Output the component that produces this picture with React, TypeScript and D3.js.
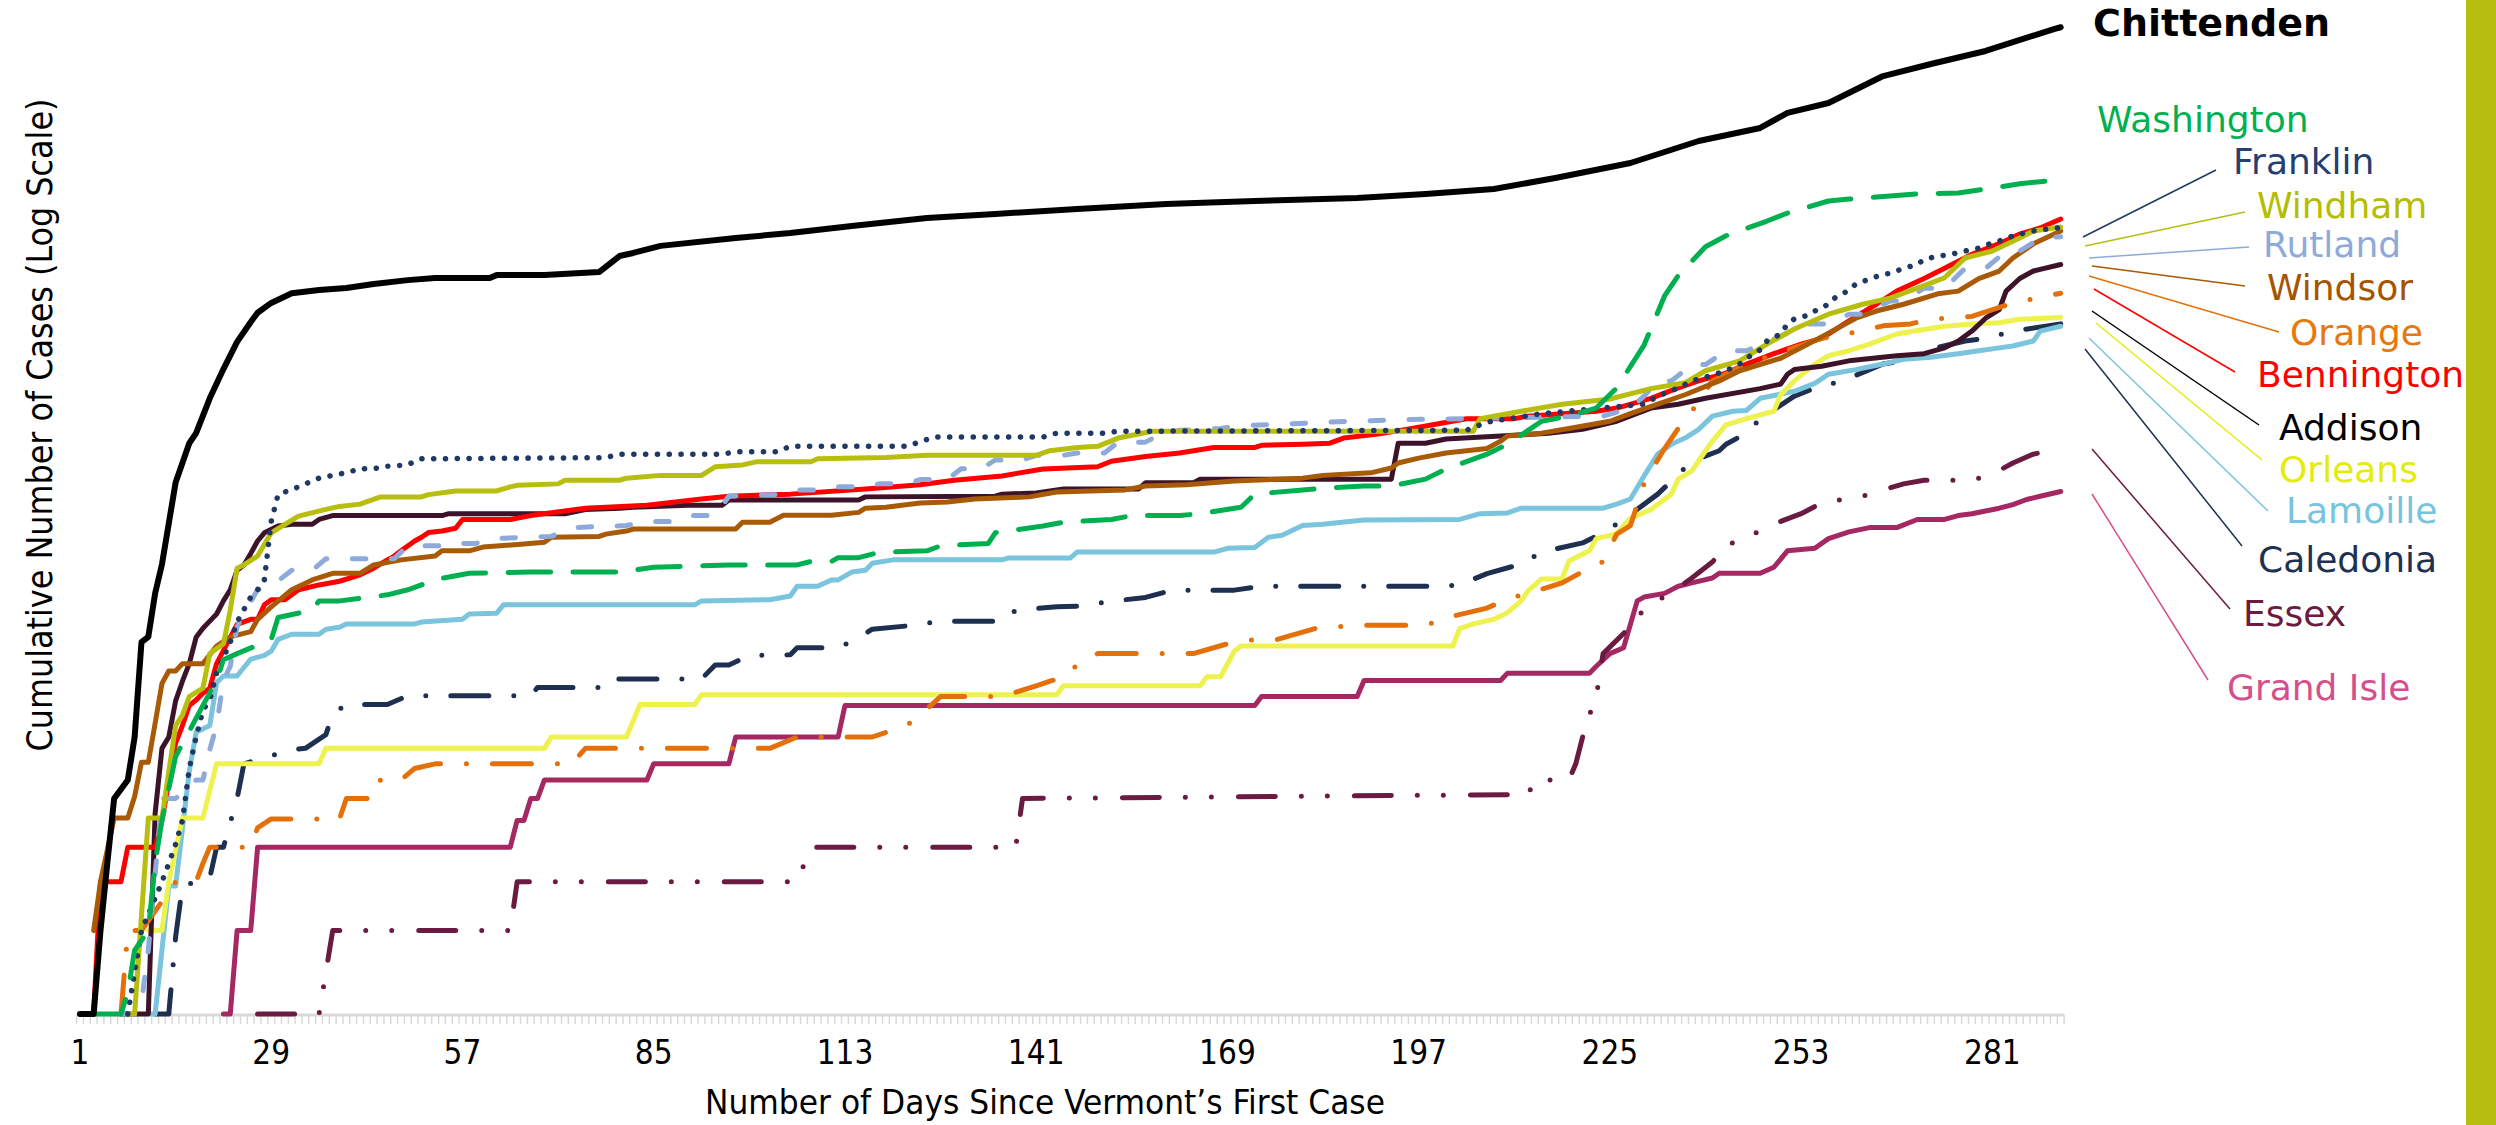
import React from "react";
import * as d3 from "d3";

type P = [number, number];

const dayTicks = [1, 29, 57, 85, 113, 141, 169, 197, 225, 253, 281];
const firstDay = 1;
const lastDay = 291;

const chittenden: P[] = [[1,1],[3,1],[4,2],[5,3.5],[6,6],[8,7],[9,10],[10,22],[11,23],[12,33],[13,42],[15,83],[17,115],[18,125],[20,167],[22,213],[24,267],[26,315],[27,340],[29,369],[32,400],[36,411],[40,418],[44,432],[49,446],[53,454],[61,454],[62,465],[69,465],[77,477],[80,545],[82,559],[86,593],[97,633],[105,660],[114,700],[125,748],[135,773],[147,806],[160,840],[173,861],[188,883],[198,913],[208,951],[217,1042],[228,1181],[238,1418],[247,1580],[251,1791],[257,1945],[265,2433],[272,2689],[280,2997],[290,3596],[291,3650]];

const washington: P[] = [[3,1],[7,1],[8,1.2],[9,1.7],[11,2],[12,3.5],[13,5],[14,6.5],[15,8.5],[17,10.5],[19,13],[21,16],[22,19],[24,20],[29,22.5],[30,27],[35,28.7],[36,31],[39,31],[46,32.6],[49,34],[51,35.4],[53,37],[58,39],[67,39.4],[80,39.4],[85,41],[96,41.8],[106,41.8],[108,43],[111,43],[112,44.4],[115,44.4],[118,46.4],[125,47],[127,49],[134,50],[135,54.6],[142,57.8],[145,59.6],[152,61],[155,63],[162,63],[165,64],[171,67.5],[173,75.3],[180,78],[183,79],[189,80.6],[193,80.6],[198,85.3],[201,92.8],[207,105],[210,114],[215,138],[219,144],[223,154],[226,182],[230,260],[233,391],[235,463],[239,589],[242,645],[248,729],[251,779],[257,861],[260,875],[266,897],[270,913],[276,921],[280,951],[285,993],[289,1017],[291,1044]];

const franklin: P[] = [[8,1],[10,2],[13,3],[14,3.5],[15,4.1],[16,5],[17,7.7],[18,10],[19,12.5],[20,13.6],[21,17],[23,22],[24,26],[26,32],[27,34],[28,37],[29,60],[30,75],[33,80],[34,82],[36,86],[38,88],[40,90],[42,93],[44,93],[46,95],[49,96],[50,99],[51,101],[78,102],[80,105],[95,105],[97,107],[103,107],[105,112],[122,112],[126,121],[142,121],[144,125],[151,125],[153,127],[204,128],[207,137],[215,147],[230,159],[232,170],[235,182],[237,193],[239,199],[242,210],[244,222],[245,233],[247,250],[248,269],[250,285],[251,310],[252,323],[254,333],[255,345],[257,365],[258,386],[260,410],[261,432],[263,450],[265,468],[266,472],[268,492],[270,508],[271,530],[273,544],[275,553],[277,568],[279,582],[280,597],[282,617],[283,633],[285,654],[287,671],[288,677],[291,690]];

const windham: P[] = [[8,1],[9,1],[11,5.1],[13,5.1],[15,11],[16,12],[17,14],[19,15],[20,20],[22,21.7],[23,28.7],[24,40.7],[25,41.8],[27,45],[29,54.6],[31,58.6],[33,62.7],[37,66.3],[39,68],[42,69.3],[45,73.6],[51,73.6],[52,75],[56,77.3],[62,77.3],[64,80],[65,81],[71,82],[72,84.5],[80,84.5],[81,86],[86,88],[92,88],[94,94.5],[98,96],[100,98.5],[108,98.5],[109,101],[119,102],[125,104],[141,104],[143,108],[147,111],[150,112],[153,120],[158,127],[205,127],[206,141],[212,150],[218,159],[225,166],[231,181],[236,190],[239,210],[244,228],[248,262],[252,297],[257,336],[262,365],[266,384],[271,426],[274,455],[277,536],[281,568],[285,633],[287,671],[291,694]];

const rutland: P[] = [[7,1],[9,1],[10,1.1],[11,1.7],[13,6],[15,6],[18,7],[19,7],[20,9],[21,11],[22,16],[23,18],[24,25],[25,28],[27,34],[29,35],[32,40],[35,40],[37,44],[47,44],[49,49],[54,49],[55,50],[59,50],[61,52],[70,53],[73,57],[81,58],[84,60],[88,60],[90,63],[94,63],[96,74],[103,75],[106,78],[110,78],[112,80],[115,80],[118,82],[122,82],[124,85],[128,85],[130,93],[133,93],[135,100],[139,100],[141,104],[145,104],[147,106],[151,106],[153,116],[157,116],[159,123],[162,128],[168,130],[171,133],[181,136],[187,138],[196,140],[204,141],[224,144],[228,154],[230,170],[232,193],[234,193],[237,221],[239,221],[242,248],[245,248],[250,280],[254,310],[257,310],[260,336],[262,336],[266,375],[268,375],[271,417],[274,417],[277,492],[280,492],[283,568],[285,568],[288,633],[291,640]];

const windsor: P[] = [[3,2],[4,3],[6,5.1],[8,5.1],[9,6.1],[10,8.1],[11,8.1],[12,11.2],[13,15.6],[14,17.3],[15,17.3],[16,18.4],[19,18.4],[21,21.3],[23,23],[26,24],[27,26.6],[29,29.5],[32,34],[35,36.9],[38,39],[42,39],[44,41.8],[48,43.6],[53,45],[54,47],[58,47],[60,48.5],[66,49.7],[69,50.5],[70,52.6],[77,53],[78,54],[81,55.4],[82,56.3],[97,56.3],[98,59.6],[102,59.6],[104,63.2],[111,63.2],[115,64.7],[116,67],[119,67.5],[124,69.9],[128,70.5],[132,72.3],[140,73.6],[144,76.6],[154,78],[157,80.6],[163,81.4],[170,84],[180,86],[183,88],[190,89.9],[193,93.6],[194,97.5],[197,101.6],[201,106],[207,110],[209,117],[210,122],[215,125],[219,130],[225,138],[228,147],[232,159],[236,172],[241,193],[244,210],[250,233],[254,262],[257,287],[261,325],[264,345],[268,365],[273,398],[276,407],[279,452],[282,481],[284,536],[287,603],[291,671]];

const orange: P[] = [[7,1],[8,2],[10,2],[15,3],[18,3],[19,3.5],[20,4],[26,4],[27,4.7],[29,5.06],[39,5.06],[40,6],[44,6],[45,7],[48,7],[50,7.7],[53,8],[73,8],[75,9.1],[102,9.1],[106,10],[117,10],[122,11],[124,12],[127,14],[136,14],[141,15.3],[145,16.5],[147,18.2],[150,20],[164,20],[169,21.7],[172,22.4],[176,22.4],[182,24.7],[188,25.3],[198,25.3],[202,27.3],[207,29.2],[210,31.5],[213,33],[218,36],[221,39.5],[224,43],[226,54],[228,58],[230,82],[231,91],[233,110],[235,130],[237,150],[240,193],[245,222],[256,275],[259,283],[265,305],[269,310],[272,322],[278,330],[284,369],[291,400]];

const bennington: P[] = [[1,1],[3,1],[4,3],[7,3],[8,4],[12,4],[13,5],[15,9.5],[16,11],[17,13],[18,13.6],[19,14.4],[20,15],[21,18.4],[24,25.5],[26,26.6],[27,26.6],[28,30],[29,31.3],[31,31.3],[33,34],[36,35.4],[39,36.5],[42,38.5],[44,40.7],[46,43.6],[47,45],[48,47],[50,51],[51,52.6],[52,54.7],[54,55.4],[56,56.7],[57,61],[64,61],[67,63],[75,67],[84,68.6],[92,72.3],[96,74],[105,75.3],[116,78.6],[124,81.4],[129,84.5],[136,87.6],[142,92.8],[150,94.5],[152,99],[157,103],[162,106],[167,111],[173,111],[174,113],[180,114],[184,115],[186,120],[191,124],[196,130],[204,141],[211,141],[213,144],[223,150],[226,154],[231,167],[235,182],[238,193],[242,206],[245,222],[249,242],[253,262],[256,275],[260,318],[264,365],[267,407],[271,452],[274,492],[278,553],[282,604],[285,654],[288,688],[291,741]];

const addison: P[] = [[7,1],[11,1],[12,5.3],[13,9.1],[14,10],[15,13.5],[16,15.9],[17,18.4],[18,22.9],[19,24.7],[20,26.2],[21,27.8],[22,31],[23,34],[24,40],[25,41.8],[26,46],[27,51],[28,54.6],[30,57.8],[32,58.6],[35,58.6],[36,61],[38,63],[54,63],[55,64],[72,64],[75,66.3],[80,67],[82,67.5],[90,68.6],[95,68.6],[96,71.7],[115,71.7],[116,73.6],[135,74],[136,75.3],[141,76],[145,78.6],[156,78.6],[157,82.7],[164,82.7],[165,85.3],[193,85.3],[194,115],[198,115],[201,119],[209,122],[216,125],[221,129],[226,138],[231,154],[235,159],[239,167],[247,181],[250,188],[251,204],[252,212],[256,218],[260,228],[267,238],[271,242],[274,254],[276,269],[278,292],[280,325],[282,349],[283,407],[285,452],[287,481],[288,488],[291,508]];

const orleans: P[] = [[11,2],[13,2],[14,3],[16,5.1],[19,5.1],[20,6.4],[21,8],[36,8],[37,9.1],[69,9.1],[70,10],[81,10],[83,13.1],[91,13.1],[92,14.2],[144,14.2],[145,15.3],[165,15.3],[166,16.5],[168,16.5],[170,20.4],[171,21.3],[202,21.3],[203,24.6],[205,25.6],[208,26.6],[210,28.1],[212,31],[213,33.7],[215,37.2],[218,37.2],[219,43.2],[222,47],[223,52],[226,54.2],[228,61.5],[231,66.3],[234,75.3],[235,85.3],[237,91.3],[239,108],[240,117],[242,134],[245,141],[249,150],[250,172],[252,193],[255,222],[257,238],[260,248],[263,262],[267,285],[271,296],[274,304],[278,310],[282,313],[285,322],[291,327]];

const lamoille: P[] = [[11,1],[12,1],[14,2.9],[15,2.9],[17,7.5],[18,10.4],[20,11],[21,15.7],[22,16.6],[24,16.6],[26,19.1],[28,19.7],[29,20.4],[30,22.5],[32,23.5],[36,23.5],[37,24.5],[39,24.9],[40,25.6],[50,25.6],[51,26],[57,26.6],[58,27.8],[62,28],[63,30],[91,30],[92,31],[102,31.3],[105,32.3],[106,35],[109,35],[111,36.9],[112,36.9],[114,39.4],[116,40],[117,42.4],[120,43.6],[136,43.6],[137,44.3],[146,44.3],[147,46.5],[167,46.5],[169,48],[173,48.3],[175,52.6],[177,53.5],[180,58],[183,58.6],[184,59],[189,60.7],[203,61],[206,64],[210,64.4],[212,67],[224,67],[226,69.3],[228,72.3],[230,87.6],[232,105],[234,114],[236,120],[238,129],[240,144],[243,150],[245,151],[247,167],[252,177],[255,189],[257,204],[261,212],[265,222],[268,231],[272,235],[276,242],[279,248],[282,254],[284,258],[287,269],[288,292],[291,304]];

const caledonia: P[] = [[12,1],[14,1],[15,1.9],[16,2.9],[20,3.1],[21,4],[22,4],[23,4.9],[24,6],[25,8],[32,9],[34,9.1],[37,10.2],[38,12.1],[40,13.1],[46,13.1],[49,14.1],[67,14.1],[68,15.1],[77,15.1],[78,16.2],[92,16.2],[94,18.2],[96,18.2],[99,19.7],[105,19.8],[106,21],[112,21],[115,22.8],[117,24.5],[123,25.3],[127,26.2],[136,26.2],[138,28.7],[144,29.5],[148,29.7],[151,30.7],[157,31.9],[161,33.9],[170,33.9],[174,35],[200,35],[203,35.4],[207,38.9],[212,42.1],[215,46.5],[221,50.2],[224,54.6],[227,61],[232,75.3],[237,99],[241,108],[242,114],[245,125],[247,141],[252,170],[255,182],[259,193],[265,222],[268,228],[271,248],[277,269],[280,275],[284,292],[291,310]];

const essex: P[] = [[27,1],[36,1],[38,2],[64,2],[65,3],[106,3],[108,4],[138,4],[139,6],[213,6.2],[214,7],[219,7],[220,8],[221,10],[222,12],[223,14],[224,20],[228,25],[230,29],[235,34.5],[237,37.5],[240,42.8],[242,49],[247,55.4],[250,60],[253,64],[256,70],[262,74],[265,78],[268,82],[271,84.5],[278,84.5],[281,89],[284,97.5],[287,105],[291,110]];

const grandIsle: P[] = [[22,1],[23,1],[24,2],[26,2],[27,4],[64,4],[65,5],[66,5],[67,6],[68,6],[69,7],[84,7],[85,8],[96,8],[97,10],[112,10],[113,13],[173,13],[174,14],[188,14],[189,16],[209,16],[210,17],[222,17],[223,18],[225,20],[227,21],[229,31],[230,32],[233,33],[235,35],[237,36],[240,37.5],[241,39],[247,39],[249,41],[251,47],[255,48],[257,52],[258,53],[260,55],[263,57],[267,57],[270,61],[274,61],[276,63],[278,64],[282,67],[284,69],[286,72],[288,74],[291,77]];

type Style = { color: string; width: number; dash?: string };

// drawn bottom to top
const series: { name: string; data: P[]; style: Style }[] = [
  { name: "Grand Isle", data: grandIsle, style: { color: "#a52862", width: 5 } },
  { name: "Essex", data: essex, style: { color: "#6b1a42", width: 5, dash: "37 26 0 26 0 27" } },
  { name: "Caledonia", data: caledonia, style: { color: "#1e2f50", width: 5, dash: "38 25 0 25" } },
  { name: "Lamoille", data: lamoille, style: { color: "#7ac4dd", width: 5 } },
  { name: "Orleans", data: orleans, style: { color: "#edf24f", width: 5 } },
  { name: "Addison", data: addison, style: { color: "#3d1329", width: 5 } },
  { name: "Bennington", data: bennington, style: { color: "#ff0000", width: 5 } },
  { name: "Orange", data: orange, style: { color: "#e4700a", width: 5, dash: "39 26 0 26" } },
  { name: "Windsor", data: windsor, style: { color: "#a85a06", width: 5 } },
  { name: "Rutland", data: rutland, style: { color: "#8eaadb", width: 5, dash: "13.5 25.5" } },
  { name: "Windham", data: windham, style: { color: "#b7be0d", width: 5 } },
  { name: "Franklin", data: franklin, style: { color: "#203864", width: 5.5, dash: "0.1 11.7" } },
  { name: "Washington", data: washington, style: { color: "#00b050", width: 5, dash: "42.5 22.5" } },
  { name: "Chittenden", data: chittenden, style: { color: "#000000", width: 6 } },
];

// label annotations: text position and leader line (pixel annotations)
const labels: { name: string; x: number; y: number; color: string; bold?: boolean; leader?: [number, number, number, number]; leaderColor?: string }[] = [
  { name: "Chittenden", x: 2093, y: 36, color: "#000000", bold: true },
  { name: "Washington", x: 2097, y: 132, color: "#00b050" },
  { name: "Franklin", x: 2233, y: 174, color: "#243f70", leader: [2083, 237, 2216, 170], leaderColor: "#203864" },
  { name: "Windham", x: 2257, y: 218, color: "#b5bd00", leader: [2085, 246, 2245, 212], leaderColor: "#b7be0d" },
  { name: "Rutland", x: 2263, y: 257, color: "#8eaadb", leader: [2089, 258, 2249, 247], leaderColor: "#8eaadb" },
  { name: "Windsor", x: 2267, y: 300, color: "#a65400", leader: [2092, 266, 2245, 286], leaderColor: "#a85a06" },
  { name: "Orange", x: 2290, y: 345, color: "#e8770e", leader: [2089, 276, 2279, 332], leaderColor: "#e4700a" },
  { name: "Bennington", x: 2257, y: 387, color: "#ff0000", leader: [2094, 289, 2235, 372], leaderColor: "#ff0000" },
  { name: "Addison", x: 2279, y: 440, color: "#000000", leader: [2092, 311, 2259, 425], leaderColor: "#000000" },
  { name: "Orleans", x: 2279, y: 482, color: "#e4ec0a", leader: [2096, 323, 2262, 460], leaderColor: "#e4ec0a" },
  { name: "Lamoille", x: 2286, y: 523, color: "#77c4de", leader: [2089, 338, 2268, 511], leaderColor: "#7ac4dd" },
  { name: "Caledonia", x: 2258, y: 572, color: "#1f3152", leader: [2085, 349, 2242, 546], leaderColor: "#1e2f50" },
  { name: "Essex", x: 2243, y: 626, color: "#6b1a40", leader: [2092, 449, 2230, 609], leaderColor: "#6b1a42" },
  { name: "Grand Isle", x: 2227, y: 700, color: "#d44f8c", leader: [2092, 494, 2208, 680], leaderColor: "#d44f8c" },
];

export default function App() {
  const W = 2496, H = 1125;
  const x = d3.scaleLinear().domain([firstDay, lastDay]).range([80, 80 + (lastDay - firstDay) * 6.83]);
  const baseY = 1014;
  const y = d3.scaleLog().domain([1, 10000]).range([baseY, baseY - 4 * 277]);
  const line = d3.line<P>().x((d) => x(d[0])).y((d) => y(d[1]));
  const minorTicks = d3.range(firstDay, lastDay + 2).map((d) => d - 0.5);
  const axisFont = "'Liberation Sans Narrow', 'DejaVu Sans Condensed', 'Liberation Sans', sans-serif";
  const labelFont = "'DejaVu Sans', Verdana, sans-serif";

  return (
    <svg width={W} height={H} style={{ position: "absolute", left: 0, top: 0, background: "#fff" }}>
      <rect x={0} y={0} width={W} height={H} fill="#ffffff" />
      <rect x={2466} y={0} width={30} height={H} fill="#b6be0f" />
      {/* x axis */}
      <line x1={x(firstDay - 0.5)} x2={x(lastDay + 0.5)} y1={baseY + 1} y2={baseY + 1} stroke="#d9d9d9" strokeWidth={3} />
      {minorTicks.map((d, i) => (
        <line key={i} x1={x(d)} x2={x(d)} y1={baseY + 1} y2={baseY + 10} stroke="#d9d9d9" strokeWidth={1.5} />
      ))}
      {dayTicks.map((d) => (
        <text key={d} x={x(d)} y={1064} textAnchor="middle" fontFamily={axisFont} fontSize={33} fill="#000">
          {d}
        </text>
      ))}
      <text x={1045} y={1114} textAnchor="middle" fontFamily={axisFont} fontSize={33} textLength={680} lengthAdjust="spacingAndGlyphs" fill="#000">
        Number of Days Since Vermont’s First Case
      </text>
      <text transform={`translate(52,425) rotate(-90)`} textAnchor="middle" fontFamily={axisFont} fontSize={35} textLength={653} lengthAdjust="spacingAndGlyphs" fill="#000">
        Cumulative Number of Cases (Log Scale)
      </text>
      {/* series */}
      {series.map((s) => (
        <path
          key={s.name}
          d={line(s.data) || ""}
          fill="none"
          stroke={s.style.color}
          strokeWidth={s.style.width}
          strokeDasharray={s.style.dash}
          strokeLinecap="round"
          strokeLinejoin="round"
        />
      ))}
      {/* leaders & labels */}
      {labels.map((l) =>
        l.leader ? (
          <line key={"l" + l.name} x1={l.leader[0]} y1={l.leader[1]} x2={l.leader[2]} y2={l.leader[3]} stroke={l.leaderColor} strokeWidth={1.5} />
        ) : null
      )}
      {labels.map((l) => (
        <text key={l.name} x={l.x} y={l.y} fontFamily={labelFont} fontWeight={l.bold ? "bold" : "normal"} fontSize={l.bold ? 38 : 36} fill={l.color}>
          {l.name}
        </text>
      ))}
    </svg>
  );
}
